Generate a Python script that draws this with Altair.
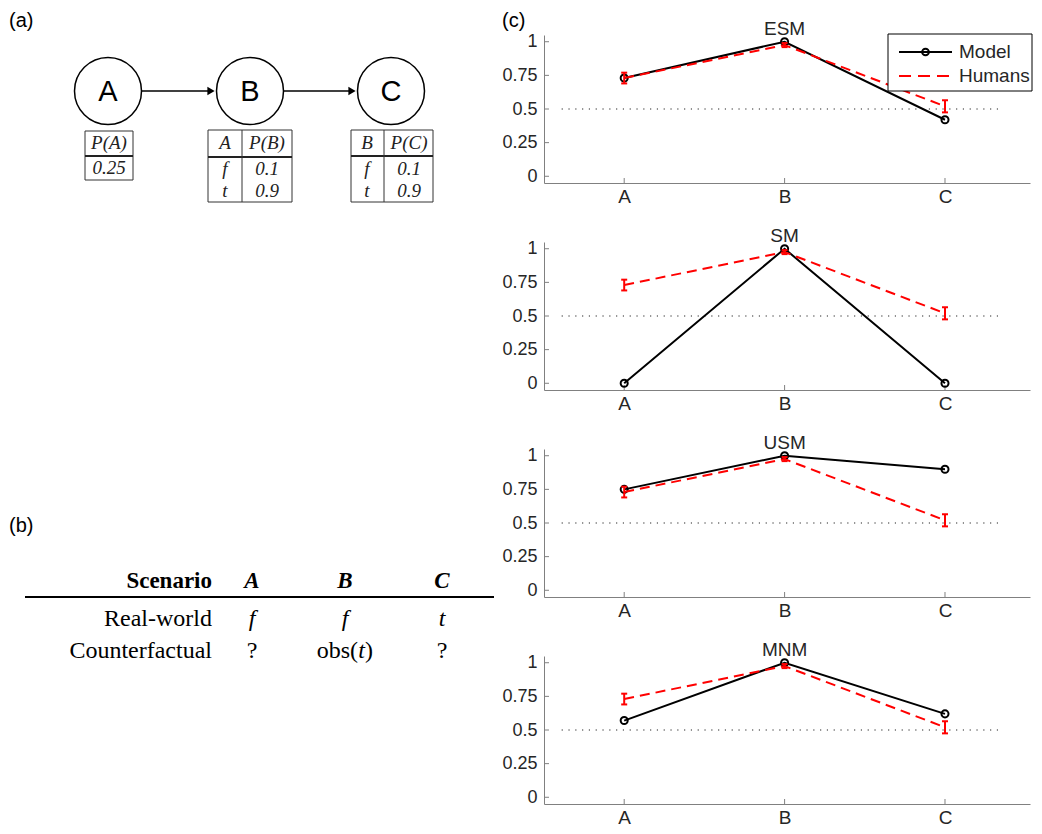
import altair as alt
import pandas as pd

# ---------------- data ----------------
CATEGORIES = ["A", "B", "C"]
POSITIONS = [1, 2, 3]
MODELS = ["ESM", "SM", "USM", "MNM"]
MODEL_ESM = [0.73, 1.00, 0.42]
MODEL_SM = [0.00, 1.00, 0.00]
MODEL_USM = [0.75, 1.00, 0.90]
MODEL_MNM = [0.57, 1.00, 0.62]
MODEL_VALUES = {"ESM": MODEL_ESM, "SM": MODEL_SM, "USM": MODEL_USM, "MNM": MODEL_MNM}
HUMANS = [0.73, 0.975, 0.52]
HUMANS_LO = [0.69, 0.96, 0.475]
HUMANS_HI = [0.77, 0.99, 0.565]
Y_TICKS = [0, 0.25, 0.5, 0.75, 1]
CHANCE = 0.5
LEGEND_LABELS = ["Model", "Humans"]

# panel (a): causal chain with conditional probability tables
NET_NODES = ["A", "B", "C"]
CPT_A = [["P(A)"], ["0.25"]]
CPT_B = [["A", "P(B)"], ["f", "0.1"], ["t", "0.9"]]
CPT_C = [["B", "P(C)"], ["f", "0.1"], ["t", "0.9"]]

# panel (b): scenario table
SCEN_HEADER = ["Scenario", "A", "B", "C"]
SCEN_ROWS = [["Real-world", "f", "f", "t"],
             ["Counterfactual", "?", "obs(t)", "?"]]
PANEL_TAGS = ["(a)", "(b)", "(c)"]

# ---------------- layout / style ----------------
W, H = 486, 148
GAP = 59
X_DOMAIN = [0.5, 3.53]
Y_DOMAIN = [-0.05, 1.05]
CHANCE_SPAN = [0.61, 3.34]
ORIGINS = {"ESM": (545, 35), "SM": (545, 242), "USM": (545, 449), "MNM": (545, 656)}
TXT = "#262626"
AXC = "#808080"
RED = "#ff0000"
SANS = "Liberation Sans"
SERIF = "Liberation Serif"
TAGFONT = "Liberation Sans"

# diagram geometry (page pixels)
NODE_X = [109, 251, 392]
NODE_Y = 91
NODE_D = 67
ARROWS = [(143, 216), (285, 357)]
TABLES = [  # x1, y1, x2, y2, header line y, column divider x (or None), col centers, row ys
    (86, 131, 134, 180, 156, None, [110], [143, 168]),
    (209, 130, 293, 202, 157, 243, [226, 268], [143, 169, 191]),
    (352, 130, 434, 202, 156, 385, [368, 410], [143, 169, 191]),
]
TAG_POS = [(10, 27), (10, 532), (503, 27)]   # left edge, text baseline
SCEN_LINE = (26, 495, 597)
SCEN_COLS = [213, 253, 346, 443]
SCEN_ROW_Y = [581, 619, 651]
LEG_BOX = (889, 34, 1033, 91)
LEG_LINE = (900, 953)
LEG_Y = [52, 76]
LEG_TEXT_X = 960


def rel(origin, xs=None, ys=None):
    ox, oy = origin
    return ([x - ox for x in xs] if xs is not None else None,
            [y - oy for y in ys] if ys is not None else None)


def PX(f):
    return alt.X(f"{f}:Q", scale=None, axis=None)


def PY(f):
    return alt.Y(f"{f}:Q", scale=None, axis=None)


xs = alt.Scale(domain=X_DOMAIN, nice=False, zero=False)
ys = alt.Scale(domain=Y_DOMAIN, nice=False, zero=False)
label_expr = "[" + ",".join(f"'{c}'" for c in CATEGORIES) + "][datum.value - 1]"
x_axis = alt.Axis(values=POSITIONS, labelExpr=label_expr, ticks=False, grid=False,
                  domainColor=AXC, domainWidth=1, labelColor=TXT, labelFontSize=19,
                  labelFont=SANS, labelPadding=4, title=None, labelFlush=False)
y_axis = alt.Axis(values=Y_TICKS, labelExpr="toString(datum.value)", ticks=False, grid=False,
                  domainColor=AXC, domainWidth=1, labelColor=TXT, labelFontSize=18,
                  labelFont=SANS, labelPadding=7, title=None, labelFlush=False)


def XQ(f):
    return alt.X(f"{f}:Q", scale=xs, axis=x_axis)


def YQ(f):
    return alt.Y(f"{f}:Q", scale=ys, axis=y_axis)


def diagram_a(origin):
    layers = []
    nx, ny = rel(origin, NODE_X, [NODE_Y] * 3)
    nodes = pd.DataFrame({"x": nx, "y": ny, "t": NET_NODES})
    layers.append(alt.Chart(nodes).mark_point(shape="circle", size=NODE_D ** 2, filled=False,
                                              color="black", strokeWidth=1.5, opacity=1)
                  .encode(x=PX("x"), y=PY("y")))
    layers.append(alt.Chart(nodes).mark_text(font=SANS, fontSize=29, color="black", baseline="middle", dy=1)
                  .encode(x=PX("x"), y=PY("y"), text="t:N"))
    ax1, _ = rel(origin, [a for a, b in ARROWS])
    ax2, _ = rel(origin, [b - 6 for a, b in ARROWS])
    tipx, _ = rel(origin, [b - 4 for a, b in ARROWS])
    _, ay = rel(origin, None, [NODE_Y] * 2)
    arr = pd.DataFrame({"x": ax1, "x2": ax2, "tx": tipx, "y": ay})
    layers.append(alt.Chart(arr).mark_rule(color="black", strokeWidth=1.3)
                  .encode(x=PX("x"), x2="x2:Q", y=PY("y")))
    layers.append(alt.Chart(arr).mark_point(shape="triangle-right", size=70, filled=True,
                                            color="black", opacity=1)
                  .encode(x=PX("tx"), y=PY("y")))
    boxes, hlines, vlines, texts = [], [], [], []
    for (x1, y1, x2, y2, hy, vx, cols, rows), cpt in zip(TABLES, [CPT_A, CPT_B, CPT_C]):
        (bx1, bx2), (by1, by2) = rel(origin, [x1, x2], [y1, y2])
        boxes.append({"x": bx1, "x2": bx2, "y": by1, "y2": by2})
        _, (hyy,) = rel(origin, None, [hy])
        hlines.append({"x": bx1, "x2": bx2, "y": hyy})
        if vx is not None:
            (vxx,), _ = rel(origin, [vx])
            vlines.append({"x": vxx, "y": by1, "y2": by2})
        cx, _ = rel(origin, cols)
        _, ry = rel(origin, None, rows)
        for r, row in enumerate(cpt):
            for c, val in enumerate(row):
                texts.append({"x": cx[c], "y": ry[r], "t": val})
    layers.append(alt.Chart(pd.DataFrame(boxes)).mark_rect(fill=None, stroke="#333", strokeWidth=1)
                  .encode(x=PX("x"), x2="x2:Q", y=PY("y"), y2="y2:Q"))
    layers.append(alt.Chart(pd.DataFrame(hlines)).mark_rule(color="#222", strokeWidth=2)
                  .encode(x=PX("x"), x2="x2:Q", y=PY("y")))
    layers.append(alt.Chart(pd.DataFrame(vlines)).mark_rule(color="#333", strokeWidth=1)
                  .encode(x=PX("x"), y=PY("y"), y2="y2:Q"))
    layers.append(alt.Chart(pd.DataFrame(texts)).mark_text(font=SERIF, fontStyle="italic", fontSize=19,
                                                           color="#222", baseline="middle")
                  .encode(x=PX("x"), y=PY("y"), text="t:N"))
    return layers


def tags(origin, which):
    tx, ty = rel(origin, [TAG_POS[i][0] for i in which], [TAG_POS[i][1] for i in which])
    df = pd.DataFrame({"x": tx, "y": ty, "t": [PANEL_TAGS[i] for i in which]})
    return [alt.Chart(df).mark_text(font=TAGFONT, fontSize=20, color="black", align="left",
                                    baseline="alphabetic")
            .encode(x=PX("x"), y=PY("y"), text="t:N")]


def legend(origin):
    (bx1, bx2), (by1, by2) = rel(origin, [LEG_BOX[0], LEG_BOX[2]], [LEG_BOX[1], LEG_BOX[3]])
    (lx1, lx2), ly = rel(origin, list(LEG_LINE), LEG_Y)
    (tx,), _ = rel(origin, [LEG_TEXT_X])
    box = pd.DataFrame({"x": [bx1], "x2": [bx2], "y": [by1], "y2": [by2]})
    ln = pd.DataFrame({"x": [lx1, lx1], "x2": [lx2, lx2], "y": ly, "k": LEGEND_LABELS,
                       "m": [(lx1 + lx2) / 2] * 2, "tx": [tx, tx]})
    return [
        alt.Chart(box).mark_rect(fill="white", stroke="black", strokeWidth=1)
        .encode(x=PX("x"), x2="x2:Q", y=PY("y"), y2="y2:Q"),
        alt.Chart(ln).transform_filter("datum.k == 'Model'").mark_rule(color="black", strokeWidth=2)
        .encode(x=PX("x"), x2="x2:Q", y=PY("y")),
        alt.Chart(ln).transform_filter("datum.k == 'Model'")
        .mark_point(shape="circle", size=45, filled=False, color="black", strokeWidth=2, opacity=1)
        .encode(x=PX("m"), y=PY("y")),
        alt.Chart(ln).transform_filter("datum.k == 'Humans'")
        .mark_rule(color=RED, strokeWidth=2, strokeDash=[12, 7])
        .encode(x=PX("x"), x2="x2:Q", y=PY("y")),
        alt.Chart(ln).mark_text(font=SANS, fontSize=19, color=TXT, align="left", baseline="middle")
        .encode(x=PX("tx"), y=PY("y"), text="k:N"),
    ]


def scenario_table(origin):
    fs = 24
    (lx1, lx2), (ly,) = rel(origin, [SCEN_LINE[0], SCEN_LINE[1]], [SCEN_LINE[2]])
    cx, _ = rel(origin, SCEN_COLS)
    _, ry = rel(origin, None, SCEN_ROW_Y)
    layers = [alt.Chart(pd.DataFrame({"x": [lx1], "x2": [lx2], "y": [ly]}))
              .mark_rule(color="black", strokeWidth=2).encode(x=PX("x"), x2="x2:Q", y=PY("y"))]
    hdr = pd.DataFrame({"x": cx, "y": [ry[0]] * 4, "t": SCEN_HEADER,
                        "it": [False, True, True, True]})
    layers.append(alt.Chart(hdr).transform_filter("!datum.it")
                  .mark_text(font=SERIF, fontWeight="bold", fontSize=fs - 1, color="black",
                             align="right", baseline="middle")
                  .encode(x=PX("x"), y=PY("y"), text="t:N"))
    layers.append(alt.Chart(hdr).transform_filter("datum.it")
                  .mark_text(font=SERIF, fontWeight="bold", fontStyle="italic", fontSize=fs - 1,
                             color="black", align="center", baseline="middle")
                  .encode(x=PX("x"), y=PY("y"), text="t:N"))
    names, cells_it, cells_rm = [], [], []
    for r, row in enumerate(SCEN_ROWS):
        y = ry[r + 1]
        names.append({"x": cx[0], "y": y, "t": row[0]})
        for c, val in enumerate(row[1:]):
            x = cx[c + 1]
            if val in ("f", "t"):
                cells_it.append({"x": x, "y": y, "t": val})
            elif val.startswith("obs(") and val.endswith(")"):
                inner = val[4:-1]
                cells_rm.append({"x": x + 13.0, "y": y, "t": "obs(", "a": "right"})
                cells_it.append({"x": x + 16.5, "y": y, "t": inner})
                cells_rm.append({"x": x + 20.0, "y": y, "t": ")", "a": "left"})
            else:
                cells_rm.append({"x": x, "y": y, "t": val, "a": "center"})
    layers.append(alt.Chart(pd.DataFrame(names))
                  .mark_text(font=SERIF, fontSize=fs, color="black", align="right", baseline="middle")
                  .encode(x=PX("x"), y=PY("y"), text="t:N"))
    layers.append(alt.Chart(pd.DataFrame(cells_it))
                  .mark_text(font=SERIF, fontStyle="italic", fontSize=fs, color="black",
                             align="center", baseline="middle")
                  .encode(x=PX("x"), y=PY("y"), text="t:N"))
    rm = pd.DataFrame(cells_rm)
    for a in ["left", "center", "right"]:
        layers.append(alt.Chart(rm).transform_filter(f"datum.a == '{a}'")
                      .mark_text(font=SERIF, fontSize=fs, color="black", align=a, baseline="middle")
                      .encode(x=PX("x"), y=PY("y"), text="t:N"))
    return layers


def panel(name):
    df = pd.DataFrame({"pos": POSITIONS, "cat": CATEGORIES, "model": MODEL_VALUES[name],
                       "human": HUMANS, "lo": HUMANS_LO, "hi": HUMANS_HI})
    base = alt.Chart(df)
    layers = []
    layers.append(alt.Chart(pd.DataFrame({"v": Y_TICKS})).mark_rule(color=AXC, strokeWidth=1)
                  .encode(y=YQ("v"), x=alt.value(0), x2=alt.value(5)))
    layers.append(alt.Chart(pd.DataFrame({"p": POSITIONS})).mark_rule(color=AXC, strokeWidth=1)
                  .encode(x=XQ("p"), y=alt.value(H), y2=alt.value(H - 5)))
    layers.append(alt.Chart(pd.DataFrame({"x0": [CHANCE_SPAN[0]], "x1": [CHANCE_SPAN[1]], "y": [CHANCE]}))
                  .mark_rule(color="#222", strokeWidth=1.2, strokeDash=[1.2, 5.6])
                  .encode(x=XQ("x0"), x2="x1:Q", y=YQ("y")))
    layers.append(base.mark_line(color="black", strokeWidth=2)
                  .encode(x=XQ("pos"), y=YQ("model")))
    layers.append(base.mark_point(shape="circle", size=50, filled=False, color="black",
                                  strokeWidth=2, opacity=1)
                  .encode(x=XQ("pos"), y=YQ("model")))
    layers.append(base.mark_line(color=RED, strokeWidth=2, strokeDash=[10, 6])
                  .encode(x=XQ("pos"), y=YQ("human")))
    layers.append(base.mark_rule(color=RED, strokeWidth=2)
                  .encode(x=XQ("pos"), y=YQ("lo"), y2="hi:Q"))
    for f in ["lo", "hi"]:
        layers.append(base.mark_tick(color=RED, orient="horizontal", size=6, thickness=2, opacity=1)
                      .encode(x=XQ("pos"), y=YQ(f)))
    layers.append(alt.Chart(pd.DataFrame({"p": [2], "t": [name]}))
                  .mark_text(font=SANS, fontSize=19, color=TXT, baseline="alphabetic", dy=0)
                  .encode(x=XQ("p"), y=alt.value(0), text="t:N"))
    origin = ORIGINS[name]
    if name == "ESM":
        layers += diagram_a(origin)
        layers += tags(origin, [0, 2])
        layers += legend(origin)
    if name == "USM":
        layers += tags(origin, [1])
        layers += scenario_table(origin)
    return alt.layer(*layers).properties(width=W, height=H)


chart = (alt.vconcat(*[panel(m) for m in MODELS], spacing=GAP, bounds="flush")
         .properties(padding={"left": 1, "top": 3, "right": 0, "bottom": 0})
         .configure_view(stroke=None))

chart.save("out.html", embed_options={"renderer": "svg", "actions": False})
